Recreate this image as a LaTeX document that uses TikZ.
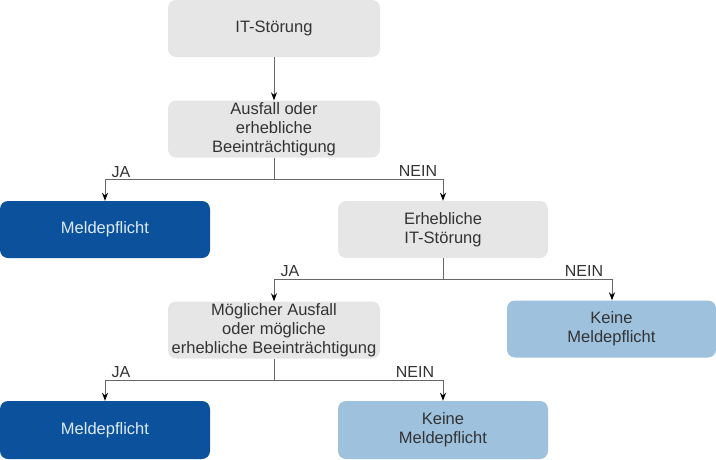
\documentclass[tikz,border=0pt]{standalone}
\usepackage{fontspec}
\setmainfont{Liberation Sans}
\usetikzlibrary{arrows.meta}
\definecolor{boxgray}{HTML}{E6E6E6}
\definecolor{darkblue}{HTML}{0B519C}
\definecolor{lightblue}{HTML}{9EC1DE}
\definecolor{linegray}{HTML}{666666}
\definecolor{txt}{HTML}{333333}
\definecolor{whitetxt}{HTML}{DDEBF7}
\tikzset{
  box/.style={rounded corners=8pt, inner sep=0pt, minimum width=212pt, minimum height=57pt, align=center, font=\fontsize{16.5}{19}\selectfont},
  graybox/.style={box, fill=boxgray, text=txt},
  darkbox/.style={box, fill=darkblue, text=whitetxt},
  lightbox/.style={box, fill=lightblue, text=txt},
  conn/.style={draw=linegray, line width=0.9pt},
  arr/.style={conn, -{Stealth[length=8pt,width=6pt,color=black]}},
  lbl/.style={font=\fontsize{16}{18}\selectfont, text=txt, inner sep=0pt}
}
\begin{document}
\begin{tikzpicture}[x=1pt,y=-1pt]
\useasboundingbox (0,0) rectangle (716,459);
\node[graybox] (n1) at (274,28.5) {IT-Störung};
\node[graybox] (n2) at (274,129) {Ausfall oder\\erhebliche\\Beeinträchtigung};
\node[darkbox, minimum width=210pt] (m1) at (105,229.5) {Meldepflicht};
\node[graybox, minimum width=210pt] (n3) at (443,229.5) {Erhebliche\\IT-Störung};
\node[lightbox, minimum width=209pt] (k1) at (611.5,329) {Keine\\Meldepflicht};
\node[graybox] (n4) at (274,330) {Möglicher Ausfall\\oder mögliche\\erhebliche Beeinträchtigung};
\node[darkbox, minimum width=210pt, minimum height=58pt] (m2) at (105,430) {Meldepflicht};
\node[lightbox, minimum width=210pt, minimum height=58pt] (k2) at (443,430) {Keine\\Meldepflicht};

\coordinate (j1) at (274,179);
\coordinate (j2) at (443,279);
\coordinate (j3) at (274,380);

\draw[arr] (n1) -- (n2);
\draw[conn] (n2.south) -- (j1);
\draw[arr] (j1) -| (m1.north);
\draw[arr] (j1) -| (n3.north);
\draw[conn] (n3.south) -- (j2);
\draw[arr] (j2) -| (n4.north);
\draw[arr] (j2) -| (k1.north -| 612,0);
\draw[conn] (n4.south) -- (j3);
\draw[arr] (j3) -| (m2.north);
\draw[arr] (j3) -| (k2.north);

\node[lbl] (l1) at (121,172) {JA};
\node[lbl] (l2) at (418,171) {NEIN};
\node[lbl] (l3) at (290,271) {JA};
\node[lbl] (l4) at (584,271) {NEIN};
\node[lbl] (l5) at (121,372) {JA};
\node[lbl] (l6) at (415,372) {NEIN};
\end{tikzpicture}
\end{document}
